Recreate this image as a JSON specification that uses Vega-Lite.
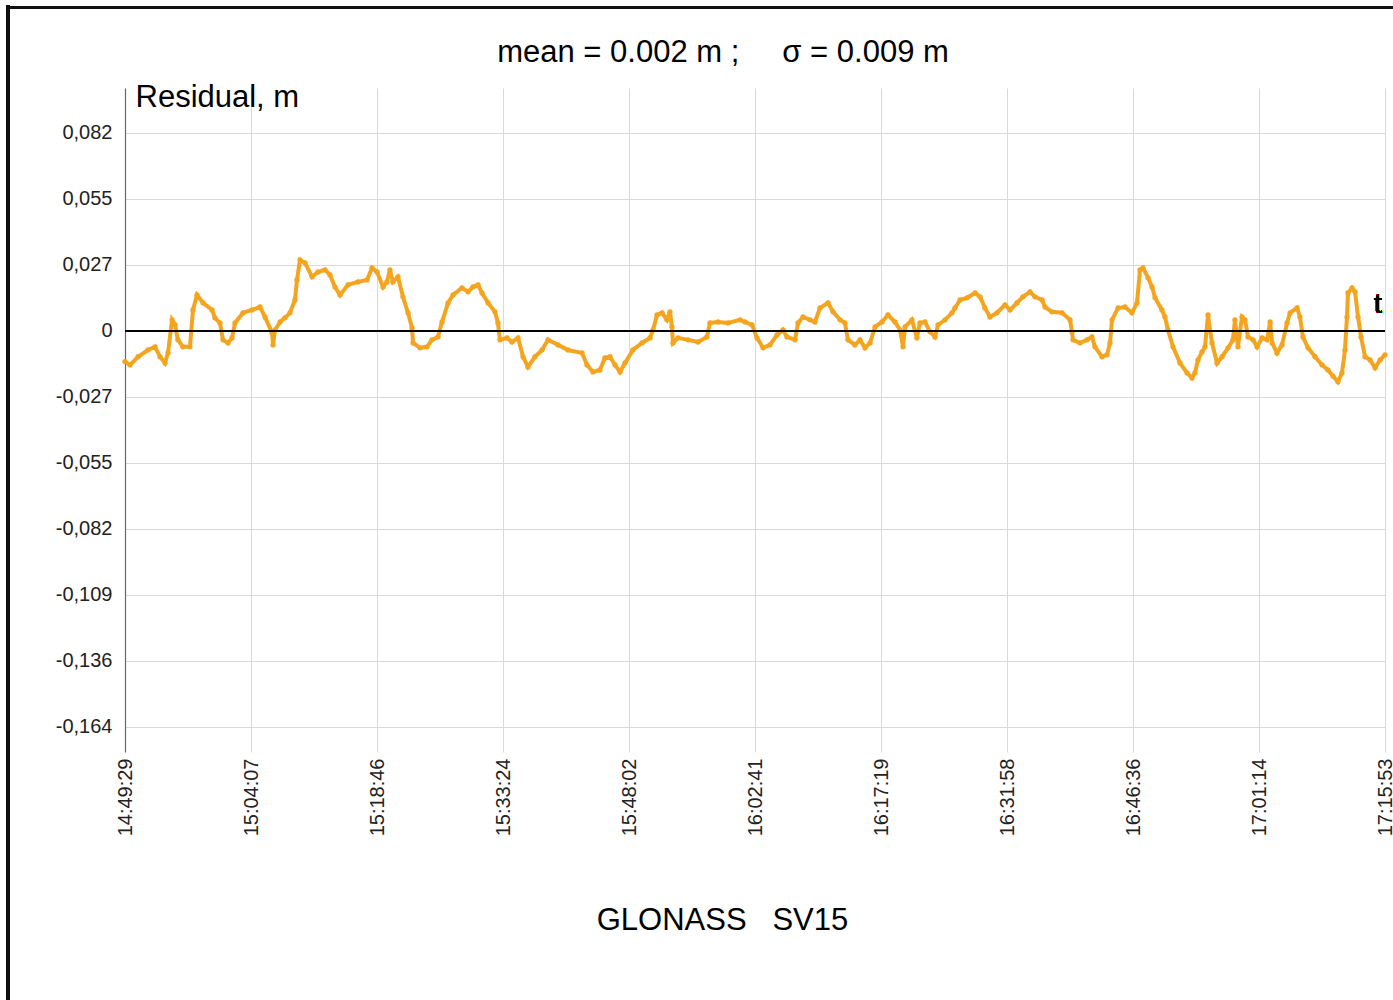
{
  "$schema": "https://vega.github.io/schema/vega-lite/v6.json",
  "width": 1260,
  "height": 664,
  "autosize": {"type": "none"},
  "padding": {"left": 125, "top": 88, "right": 8, "bottom": 248},
  "background": "white",
  "title": {"text": "mean = 0.002 m ;\u00a0\u00a0\u00a0\u00a0 σ = 0.009 m", "anchor": "middle", "frame": "group", "dx": -32, "offset": 0, "dy": 89, "baseline": "alphabetic", "fontSize": 31, "font": "Liberation Sans", "fontWeight": "normal", "color": "#000"},
  "config": {"view": {"stroke": null}, "font": "Liberation Sans"},
  "data": {"values": [
    {"t":0,"r":-0.0127},{"t":35,"r":-0.0141},{"t":91,"r":-0.0107},{"t":160,"r":-0.0079},{"t":209,"r":-0.0066},{"t":244,"r":-0.0107},{"t":279,"r":-0.0133},{"t":300,"r":-0.0090},{"t":328,"r":0.0046},{"t":349,"r":0.0025},{"t":369,"r":-0.0037},{"t":404,"r":-0.0066},{"t":453,"r":-0.0066},{"t":474,"r":0.0087},{"t":502,"r":0.0149},{"t":544,"r":0.0116},{"t":607,"r":0.0087},{"t":627,"r":0.0054},{"t":662,"r":0.0033},{"t":683,"r":-0.0037},{"t":718,"r":-0.0050},{"t":746,"r":-0.0029},{"t":767,"r":0.0033},{"t":823,"r":0.0075},{"t":885,"r":0.0087},{"t":941,"r":0.0099},{"t":976,"r":0.0058},{"t":1025,"r":-0.0008},{"t":1032,"r":-0.0058},{"t":1046,"r":0.0004},{"t":1081,"r":0.0037},{"t":1115,"r":0.0054},{"t":1150,"r":0.0075},{"t":1185,"r":0.0128},{"t":1199,"r":0.0211},{"t":1220,"r":0.0294},{"t":1255,"r":0.0282},{"t":1304,"r":0.0224},{"t":1345,"r":0.0244},{"t":1394,"r":0.0253},{"t":1429,"r":0.0232},{"t":1464,"r":0.0182},{"t":1499,"r":0.0149},{"t":1555,"r":0.0191},{"t":1624,"r":0.0203},{"t":1687,"r":0.0211},{"t":1722,"r":0.0261},{"t":1757,"r":0.0244},{"t":1799,"r":0.0182},{"t":1826,"r":0.0203},{"t":1847,"r":0.0253},{"t":1868,"r":0.0203},{"t":1903,"r":0.0224},{"t":1938,"r":0.0141},{"t":1973,"r":0.0075},{"t":2001,"r":0.0012},{"t":2008,"r":-0.0050},{"t":2057,"r":-0.0070},{"t":2105,"r":-0.0066},{"t":2140,"r":-0.0037},{"t":2182,"r":-0.0025},{"t":2210,"r":0.0037},{"t":2252,"r":0.0116},{"t":2287,"r":0.0149},{"t":2349,"r":0.0178},{"t":2391,"r":0.0162},{"t":2426,"r":0.0182},{"t":2461,"r":0.0191},{"t":2489,"r":0.0157},{"t":2531,"r":0.0116},{"t":2579,"r":0.0079},{"t":2600,"r":0.0033},{"t":2614,"r":-0.0037},{"t":2663,"r":-0.0029},{"t":2698,"r":-0.0046},{"t":2740,"r":-0.0029},{"t":2775,"r":-0.0107},{"t":2809,"r":-0.0149},{"t":2858,"r":-0.0107},{"t":2907,"r":-0.0079},{"t":2949,"r":-0.0037},{"t":3019,"r":-0.0058},{"t":3088,"r":-0.0079},{"t":3186,"r":-0.0091},{"t":3221,"r":-0.0141},{"t":3263,"r":-0.0170},{"t":3311,"r":-0.0162},{"t":3346,"r":-0.0112},{"t":3381,"r":-0.0107},{"t":3416,"r":-0.0141},{"t":3451,"r":-0.0170},{"t":3486,"r":-0.0133},{"t":3541,"r":-0.0079},{"t":3604,"r":-0.0050},{"t":3660,"r":-0.0029},{"t":3681,"r":0.0004},{"t":3709,"r":0.0066},{"t":3744,"r":0.0075},{"t":3778,"r":0.0046},{"t":3799,"r":0.0079},{"t":3813,"r":0.0017},{"t":3820,"r":-0.0050},{"t":3855,"r":-0.0029},{"t":3925,"r":-0.0037},{"t":3995,"r":-0.0046},{"t":4057,"r":-0.0025},{"t":4078,"r":0.0033},{"t":4134,"r":0.0037},{"t":4204,"r":0.0033},{"t":4287,"r":0.0046},{"t":4322,"r":0.0037},{"t":4371,"r":0.0025},{"t":4406,"r":-0.0029},{"t":4448,"r":-0.0070},{"t":4496,"r":-0.0058},{"t":4545,"r":-0.0017},{"t":4587,"r":0.0004},{"t":4615,"r":-0.0025},{"t":4671,"r":-0.0037},{"t":4692,"r":0.0033},{"t":4727,"r":0.0058},{"t":4775,"r":0.0046},{"t":4810,"r":0.0037},{"t":4845,"r":0.0095},{"t":4901,"r":0.0116},{"t":4936,"r":0.0079},{"t":4985,"r":0.0046},{"t":5019,"r":0.0033},{"t":5040,"r":-0.0037},{"t":5089,"r":-0.0058},{"t":5124,"r":-0.0037},{"t":5159,"r":-0.0070},{"t":5194,"r":-0.0050},{"t":5229,"r":0.0017},{"t":5277,"r":0.0037},{"t":5319,"r":0.0066},{"t":5368,"r":0.0037},{"t":5403,"r":0.0004},{"t":5424,"r":-0.0066},{"t":5438,"r":0.0017},{"t":5486,"r":0.0046},{"t":5521,"r":-0.0029},{"t":5542,"r":0.0033},{"t":5577,"r":0.0037},{"t":5612,"r":-0.0004},{"t":5647,"r":-0.0025},{"t":5668,"r":0.0025},{"t":5717,"r":0.0046},{"t":5765,"r":0.0075},{"t":5786,"r":0.0095},{"t":5821,"r":0.0128},{"t":5870,"r":0.0137},{"t":5926,"r":0.0157},{"t":5961,"r":0.0141},{"t":5995,"r":0.0095},{"t":6030,"r":0.0058},{"t":6079,"r":0.0075},{"t":6135,"r":0.0108},{"t":6170,"r":0.0087},{"t":6218,"r":0.0116},{"t":6260,"r":0.0141},{"t":6309,"r":0.0162},{"t":6344,"r":0.0141},{"t":6393,"r":0.0128},{"t":6414,"r":0.0099},{"t":6462,"r":0.0079},{"t":6532,"r":0.0075},{"t":6588,"r":0.0046},{"t":6602,"r":-0.0004},{"t":6609,"r":-0.0037},{"t":6658,"r":-0.0050},{"t":6706,"r":-0.0037},{"t":6741,"r":-0.0025},{"t":6762,"r":-0.0066},{"t":6811,"r":-0.0107},{"t":6846,"r":-0.0099},{"t":6867,"r":-0.0050},{"t":6881,"r":0.0046},{"t":6923,"r":0.0095},{"t":6971,"r":0.0099},{"t":7020,"r":0.0075},{"t":7055,"r":0.0116},{"t":7076,"r":0.0253},{"t":7097,"r":0.0261},{"t":7132,"r":0.0220},{"t":7160,"r":0.0182},{"t":7181,"r":0.0137},{"t":7229,"r":0.0087},{"t":7250,"r":0.0058},{"t":7271,"r":0.0004},{"t":7306,"r":-0.0066},{"t":7355,"r":-0.0133},{"t":7404,"r":-0.0174},{"t":7438,"r":-0.0195},{"t":7459,"r":-0.0174},{"t":7480,"r":-0.0120},{"t":7508,"r":-0.0087},{"t":7529,"r":-0.0066},{"t":7550,"r":0.0066},{"t":7578,"r":-0.0050},{"t":7613,"r":-0.0133},{"t":7648,"r":-0.0107},{"t":7690,"r":-0.0070},{"t":7724,"r":-0.0037},{"t":7738,"r":0.0046},{"t":7759,"r":-0.0066},{"t":7787,"r":0.0058},{"t":7808,"r":0.0046},{"t":7829,"r":-0.0025},{"t":7864,"r":-0.0037},{"t":7892,"r":-0.0066},{"t":7927,"r":-0.0029},{"t":7962,"r":-0.0037},{"t":7983,"r":0.0037},{"t":7997,"r":-0.0050},{"t":8031,"r":-0.0091},{"t":8066,"r":-0.0058},{"t":8101,"r":0.0033},{"t":8122,"r":0.0075},{"t":8171,"r":0.0095},{"t":8191,"r":0.0058},{"t":8212,"r":-0.0025},{"t":8247,"r":-0.0070},{"t":8296,"r":-0.0107},{"t":8345,"r":-0.0141},{"t":8386,"r":-0.0162},{"t":8421,"r":-0.0187},{"t":8456,"r":-0.0211},{"t":8484,"r":-0.0174},{"t":8505,"r":-0.0079},{"t":8519,"r":0.0058},{"t":8526,"r":0.0157},{"t":8554,"r":0.0178},{"t":8575,"r":0.0162},{"t":8596,"r":0.0058},{"t":8617,"r":-0.0025},{"t":8645,"r":-0.0107},{"t":8680,"r":-0.0120},{"t":8715,"r":-0.0153},{"t":8750,"r":-0.0120},{"t":8784,"r":-0.0099}
  ]},
  "layer": [
    {
      "mark": {"type": "line", "color": "#f4a41e", "strokeWidth": 4, "point": {"filled": true, "size": 28, "color": "#f4a41e"}},
      "encoding": {
        "x": {"field": "t", "type": "quantitative",
          "scale": {"domain": [0, 8784], "nice": false, "zero": false},
          "axis": {"title": "GLONASS\u00a0\u00a0\u00a0SV15", "values": [0, 878.4, 1756.8, 2635.2, 3513.6, 4392, 5270.4, 6148.8, 7027.2, 7905.6, 8784],
            "labelExpr": "['14:49:29','15:04:07','15:18:46','15:33:24','15:48:02','16:02:41','16:17:19','16:31:58','16:46:36','17:01:14','17:15:53'][round(datum.value/878.4)]",
            "labelAngle": -90, "labelFontSize": 20, "labelPadding": 6, "labelFlush": false, "labelOverlap": false, "labelColor": "#222",
            "ticks": false, "domain": false, "grid": true, "gridColor": "#d9d9d9", "gridWidth": 1,
            "titleFontSize": 31, "titleFontWeight": "normal", "titleColor": "#000", "titleX": 597, "titleY": 168, "titleBaseline": "middle", "titleAlign": "center"}},
        "y": {"field": "r", "type": "quantitative",
          "scale": {"domain": [-0.1744, 0.1006], "nice": false, "zero": false},
          "axis": {"title": "Residual, m", "titleAngle": 0, "titleX": 10, "titleY": 9, "titleAlign": "left", "titleBaseline": "middle", "titleFontSize": 31, "titleFontWeight": "normal", "titleColor": "#000",
            "values": [-0.16398, -0.13665, -0.10932, -0.08199, -0.05466, -0.02733, 0, 0.02733, 0.05466, 0.08199],
            "labelExpr": "['-0,164','-0,136','-0,109','-0,082','-0,055','-0,027','0','0,027','0,055','0,082'][round(datum.value/0.02733)+6]",
            "labelFontSize": 20, "labelPadding": 13, "labelColor": "#222", "labelOverlap": false,
            "ticks": false, "domainColor": "#666", "domainWidth": 1.2, "grid": true, "gridColor": "#d9d9d9", "gridWidth": 1}}
      }
    },
    {"mark": {"type": "rule", "color": "#000", "strokeWidth": 1.5}, "encoding": {"y": {"datum": 0, "type": "quantitative"}}},
    {"mark": {"type": "text", "fontSize": 28, "font": "Liberation Sans", "align": "center", "baseline": "middle", "color": "#000"},
      "encoding": {"x": {"datum": 8735, "type": "quantitative"}, "y": {"datum": 0.0108, "type": "quantitative"}, "text": {"value": "t"}}},
    {"mark": {"type": "rule", "color": "#111", "strokeWidth": 2.5},
      "encoding": {"x": {"datum": -815, "type": "quantitative"}, "y": {"datum": 0.135, "type": "quantitative"}, "y2": {"datum": -0.28}}},
    {"mark": {"type": "rule", "color": "#111", "strokeWidth": 2.5},
      "encoding": {"y": {"datum": 0.1338, "type": "quantitative"}, "x": {"datum": -815, "type": "quantitative"}, "x2": {"datum": 8900}}}
  ]
}
